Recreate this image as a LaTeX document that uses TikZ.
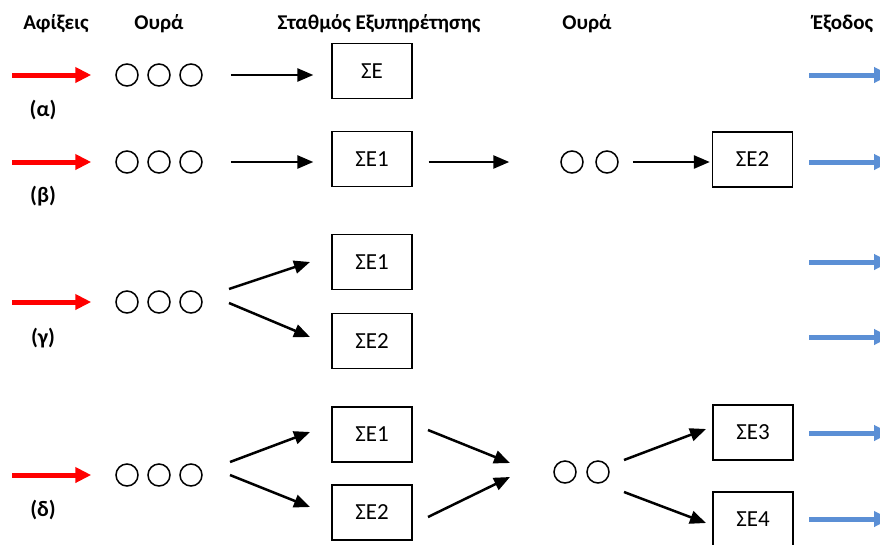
\documentclass[tikz,border=0pt]{standalone}
\usepackage{fontspec}
\setmainfont{Carlito}
\usetikzlibrary{arrows.meta}
\definecolor{arrred}{RGB}{255,0,0}
\definecolor{arrblue}{RGB}{91,143,213}
\begin{document}
\begin{tikzpicture}[x=1pt,y=-1pt,
 hdr/.style={font=\bfseries\fontsize{21}{24}\selectfont, anchor=base},
 lbl/.style={font=\bfseries\fontsize{22}{26}\selectfont},
 qc/.style={circle,draw,line width=1.5pt,minimum size=22pt,inner sep=0pt},
 sbox/.style={draw,line width=1.3pt,minimum width=80pt,minimum height=55pt,inner sep=0pt,font=\fontsize{23}{27}\selectfont},
 flow/.style={line width=2.5pt,-{Triangle[length=16pt,width=13pt]}},
 inarr/.style={draw=arrred,line width=5pt,-{Triangle[length=16pt,width=15pt]}},
 outarr/.style={draw=arrblue,line width=5pt,-{Triangle[length=16pt,width=15pt]}},
]
\useasboundingbox (0,0) rectangle (880,544);
% headers
\node[hdr] (h1) at (56,29) {Αφίξεις};
\node[hdr] (h2) at (159,29) {Ουρά};
\node[hdr] (h3) at (379,29) {Σταθμός Εξυπηρέτησης};
\node[hdr] (h4) at (587,29) {Ουρά};
\node[hdr] (h5) at (843,29) {Έξοδος};
% labels
\node[lbl] (la) at (43,110) {(α)};
\node[lbl] (lb) at (43,196) {(β)};
\node[lbl] (lg) at (43,338) {(γ)};
\node[lbl] (ld) at (43,510) {(δ)};

% ---- row alpha
\coordinate (ia) at (12,75);
\node[qc] (a1) at (127,75) {};
\node[qc] (a2) at (159,75) {};
\node[qc] (a3) at (191,75) {};
\node[sbox] (sa) at (372,71) {ΣΕ\hspace{17pt}};
\coordinate (oa1) at (809,75);
\coordinate (oa2) at (890,75);
\draw[inarr,shorten >=24pt] (ia) -- (a1);
\draw[flow,shorten <=28pt,shorten >=18pt] (a3) -- (a3 -| sa.west);
\draw[outarr] (oa1) -- (oa2);

% ---- row beta
\coordinate (ib) at (12,162);
\node[qc] (b1) at (127,162) {};
\node[qc] (b2) at (159,162) {};
\node[qc] (b3) at (191,162) {};
\node[sbox] (sb1) at (372,159) {ΣΕ1\hspace{8pt}};
\node[qc] (c1) at (572,162) {};
\node[qc] (c2) at (607,162) {};
\node[sbox] (sb2) at (752.5,159.5) {ΣΕ2\hspace{6pt}};
\coordinate (ob1) at (809,162);
\coordinate (ob2) at (890,162);
\draw[inarr,shorten >=24pt] (ib) -- (b1);
\draw[flow,shorten <=28pt,shorten >=18pt] (b3) -- (b3 -| sb1.west);
\draw[flow,shorten <=16pt,shorten >=51pt] (b3 -| sb1.east) -- (c1);
\draw[flow,shorten <=14pt,shorten >=2pt] (c2) -- (c2 -| sb2.west);
\draw[outarr] (ob1) -- (ob2);

% ---- row gamma
\coordinate (ig) at (12,302);
\node[qc] (g1) at (127,302) {};
\node[qc] (g2) at (159,302) {};
\node[qc] (g3) at (191,302) {};
\node[sbox] (sg1) at (372,262) {ΣΕ1\hspace{8pt}};
\node[sbox] (sg2) at (372,341) {ΣΕ2\hspace{8pt}};
\coordinate (gs1) at (229,289);
\coordinate (ge1) at (310,262);
\coordinate (gs2) at (229,303);
\coordinate (ge2) at (310,337);
\coordinate (og1) at (809,262);
\coordinate (og2) at (890,262);
\coordinate (og3) at (809,337);
\coordinate (og4) at (890,337);
\draw[inarr,shorten >=24pt] (ig) -- (g1);
\draw[flow] (gs1) -- (ge1);
\draw[flow] (gs2) -- (ge2);
\draw[outarr] (og1) -- (og2);
\draw[outarr] (og3) -- (og4);

% ---- row delta
\coordinate (id) at (12,475);
\node[qc] (d1) at (127,475) {};
\node[qc] (d2) at (159,475) {};
\node[qc] (d3) at (191,475) {};
\node[sbox] (sd1) at (372,434.5) {ΣΕ1\hspace{6pt}};
\node[sbox] (sd2) at (372,512.5) {ΣΕ2\hspace{6pt}};
\node[qc] (d4) at (565,472) {};
\node[qc] (d5) at (598,472) {};
\node[sbox] (sd3) at (753,432.5) {ΣΕ3\hspace{6pt}};
\node[sbox] (sd4) at (753,519.5) {ΣΕ4\hspace{6pt}};
\coordinate (ds1) at (230,462);
\coordinate (de1) at (310,432);
\coordinate (ds2) at (230,475);
\coordinate (de2) at (310,507);
\coordinate (ds3) at (428,430);
\coordinate (de3) at (510,463);
\coordinate (ds4) at (428,517);
\coordinate (de4) at (510,477);
\coordinate (ds5) at (624,460);
\coordinate (de5) at (706,429);
\coordinate (ds6) at (624,492);
\coordinate (de6) at (706,523);
\coordinate (od1) at (809,433);
\coordinate (od2) at (890,433);
\coordinate (od3) at (809,519);
\coordinate (od4) at (890,519);
\draw[inarr,shorten >=24pt] (id) -- (d1);
\draw[flow] (ds1) -- (de1);
\draw[flow] (ds2) -- (de2);
\draw[flow] (ds3) -- (de3);
\draw[flow] (ds4) -- (de4);
\draw[flow] (ds5) -- (de5);
\draw[flow] (ds6) -- (de6);
\draw[outarr] (od1) -- (od2);
\draw[outarr] (od3) -- (od4);
\end{tikzpicture}
\end{document}
